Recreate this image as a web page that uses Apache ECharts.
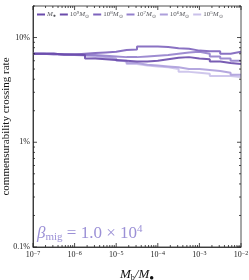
<!DOCTYPE html>
<html><head><meta charset="utf-8">
<script src="https://cdn.jsdelivr.net/npm/echarts@6/dist/echarts.min.js"></script>
<style>html,body{margin:0;padding:0;background:#fff}#c{width:249px;height:280px}</style>
</head><body><div id="c"></div>
<script>
// bin edges (log10 of M_b/M_bh)
const binEdgeExp = [-7,-6.75,-6.5,-6.25,-6,-5.75,-5.5,-5.25,-5,-4.75,-4.5,-4.25,-4,-3.75,-3.5,-3.25,-3,-2.75,-2.5,-2.25,-2];
const seriesNames = ['1e9','1e8','1e7','1e6','1e5'];
// crossing rate in percent per bin
const rate1e9 = [7.0,7.0,6.9,6.9,6.8,6.3,6.2,6.1,6.0,5.9,5.9,6.0,6.2,6.4,6.5,6.3,6.2,5.9,5.7,5.6];
const rate1e8 = [7.0,7.0,6.9,6.9,7.0,7.1,7.2,7.3,7.6,7.7,8.2,8.2,8.1,7.9,7.8,7.5,7.4,7.4,7.0,7.3];
const rate1e7 = [7.0,6.9,6.9,6.8,6.8,6.8,6.7,6.6,6.5,6.5,6.6,6.7,6.8,7.0,7.2,7.3,7.0,6.6,6.3,6.0];
const rate1e6 = [7.0,7.0,6.9,6.9,6.8,6.7,6.5,6.3,6.0,5.7,5.5,5.4,5.3,5.2,5.0,5.0,4.9,4.8,4.6,4.4];
const rate1e5 = [7.0,7.0,6.9,6.8,6.7,6.5,6.3,6.1,5.9,5.6,5.4,5.3,5.2,5.0,4.7,4.6,4.5,4.3,4.3,4.2];
const rates = [rate1e9, rate1e8, rate1e7, rate1e6, rate1e5];
const colors = ['#6a4bab','#7d63bd','#9480cc','#ad9fdb','#cac1ea'];
const yTicks = [0.001, 0.01, 0.1];
const xTickExp = [-7,-6,-5,-4,-3,-2];

const SERIF = 'Liberation Serif';
const XMIN = 1e-7, XMAX = 1e-2, YMIN = 0.001, YMAX = 0.2;

function toStep(vals){
  const d = [];
  for (let i = 0; i < vals.length; i++) d.push([Math.pow(10, binEdgeExp[i]), vals[i]/100]);
  d.push([Math.pow(10, binEdgeExp[vals.length]), vals[vals.length-1]/100]);
  return d;
}

const series = [];
series.push({name:'Mbh', type:'line', data:[], itemStyle:{color:'#6a4bab'}, lineStyle:{color:'#6a4bab', width:2}});
seriesNames.forEach((n,i)=>{
  series.push({name:n, type:'line', step:'end', showSymbol:false, symbol:'none',
    data: toStep(rates[i]), lineStyle:{color:colors[i], width:2, opacity:0.9}, itemStyle:{color:colors[i]}, z:5-i});
});

// tick marks (drawn through the axes' scales)
const xMinor = [];
for (let d=-7; d<-2; d++) for (let m=2; m<=9; m++) xMinor.push([m*Math.pow(10,d), YMIN, YMAX]);
const yMinor = [];
for (let d=-3; d<0; d++) for (let m=2; m<=9; m++) { const v=m*Math.pow(10,d); if (v<=YMAX) yMinor.push([XMIN, XMAX, v]); }
const xMajor = xTickExp.map(e=>[Math.pow(10,e), YMIN, YMAX]);
const yMajor = yTicks.map(v=>[XMIN, XMAX, v]);
const tickStyle = {stroke:'#222', lineWidth:0.8};
function xTickRender(len){
  return function(params, api){
    const x = api.value(0);
    const b = api.coord([x, api.value(1)]);
    const t = api.coord([x, api.value(2)]);
    return {type:'group', children:[
      {type:'line', shape:{x1:b[0], y1:b[1], x2:b[0], y2:b[1]-len}, style:tickStyle},
      {type:'line', shape:{x1:t[0], y1:t[1], x2:t[0], y2:t[1]+len}, style:tickStyle}
    ]};
  };
}
function yTickRender(len){
  return function(params, api){
    const y = api.value(2);
    const l = api.coord([api.value(0), y]);
    const r = api.coord([api.value(1), y]);
    return {type:'group', children:[
      {type:'line', shape:{x1:l[0], y1:l[1], x2:l[0]+len, y2:l[1]}, style:tickStyle},
      {type:'line', shape:{x1:r[0], y1:r[1], x2:r[0]-len, y2:r[1]}, style:tickStyle}
    ]};
  };
}
[[xMinor, xTickRender(2)], [xMajor, xTickRender(4)]].forEach(([d,f])=>{
  series.push({type:'custom', data:d, renderItem:f, clip:false, silent:true, encode:{x:0,y:1}, z:10});
});
[[yMinor, yTickRender(2)], [yMajor, yTickRender(4)]].forEach(([d,f])=>{
  series.push({type:'custom', data:d, renderItem:f, clip:false, silent:true, encode:{x:0,y:2}, z:10});
});

const legendRich = {
  i:{fontFamily:SERIF, fontStyle:'italic', fontSize:7},
  n:{fontFamily:SERIF, fontSize:7},
  s:{fontFamily:SERIF, fontSize:5, verticalAlign:'top', padding:[0,0,4,0]},
  si:{fontFamily:SERIF, fontSize:5, verticalAlign:'bottom', padding:[3,0,0,0]}
};

const chart = echarts.init(document.getElementById('c'), null, {renderer:'canvas'});
chart.setOption({
  animation:false,
  backgroundColor:'#fff',
  grid:{left:33, right:8, top:6, bottom:33, containLabel:false, outerBoundsMode:'none'},
  legend:{
    top:10, left:37, width:215, itemWidth:8, itemHeight:2, itemGap:4, icon:'rect', padding:0,
    data:['Mbh'].concat(seriesNames),
    formatter: function(n){
      if (n==='Mbh') return '{i|M}{si|●}';
      const e = n.slice(2);
      return '{n|10}{s|'+e+'}{i|M}{si|⊙}';
    },
    textStyle:{fontFamily:SERIF, fontSize:7, rich:legendRich, padding:[0,0,0,-3]},
    selectedMode:false
  },
  xAxis:{
    type:'log', logBase:10, min:XMIN, max:XMAX,
    axisLine:{show:true, onZero:false, lineStyle:{color:'#222', width:0.8}},
    axisTick:{show:false}, splitLine:{show:false},
    axisLabel:{fontFamily:SERIF, fontSize:8, color:'#222', margin:3,
      formatter: v => '{b|10}{s|−'+Math.round(-Math.log10(v))+'}',
      rich:{b:{fontFamily:SERIF, fontSize:8, color:'#222'}, s:{fontFamily:SERIF, fontSize:6, color:'#222', verticalAlign:'top', padding:[0,0,4,0]}}},
    name:'{i|M}{s|b}{n|/}{i|M}{s|●}', nameLocation:'middle', nameGap:21, nameMoveOverlap:false,
    nameTextStyle:{rich:{i:{fontFamily:SERIF, fontStyle:'italic', fontSize:13, color:'#111'}, n:{fontFamily:SERIF, fontSize:13, fontStyle:'italic', color:'#111'}, s:{fontFamily:SERIF, fontSize:8, color:'#111', verticalAlign:'bottom', padding:[6,0,0,0]}}}
  },
  yAxis:{
    type:'log', logBase:10, min:YMIN, max:YMAX,
    axisLine:{show:true, onZero:false, lineStyle:{color:'#222', width:0.8}},
    axisTick:{show:false}, splitLine:{show:false},
    axisLabel:{fontFamily:SERIF, fontSize:8, color:'#222', margin:3, showMaxLabel:false,
      formatter: v => (+(v*100).toPrecision(3)) + '%'},
    name:'commensurability crossing rate', nameLocation:'middle', nameGap:21, nameMoveOverlap:false,
    nameTextStyle:{fontFamily:SERIF, fontSize:11, color:'#111'}
  },
  graphic:[
    {type:'rect', shape:{x:33, y:6, width:208, height:241}, style:{fill:'none', stroke:'#222', lineWidth:0.8}, silent:true, z:20},
    {type:'text', left:37, top:224, style:{
      text:'{g|β}{s|mig}{n| = 1.0 × 10}{p|4}',
      rich:{
        g:{fontFamily:SERIF, fontStyle:'italic', fontSize:17, fill:'#9b90d6'},
        s:{fontFamily:SERIF, fontSize:11, fill:'#9b90d6', verticalAlign:'bottom', padding:[8,0,0,0]},
        n:{fontFamily:SERIF, fontSize:17, fill:'#9b90d6'},
        p:{fontFamily:SERIF, fontSize:11, fill:'#9b90d6', verticalAlign:'top', padding:[0,0,8,0]}
      }}, z:20}
  ],
  series: series
});
</script></body></html>
